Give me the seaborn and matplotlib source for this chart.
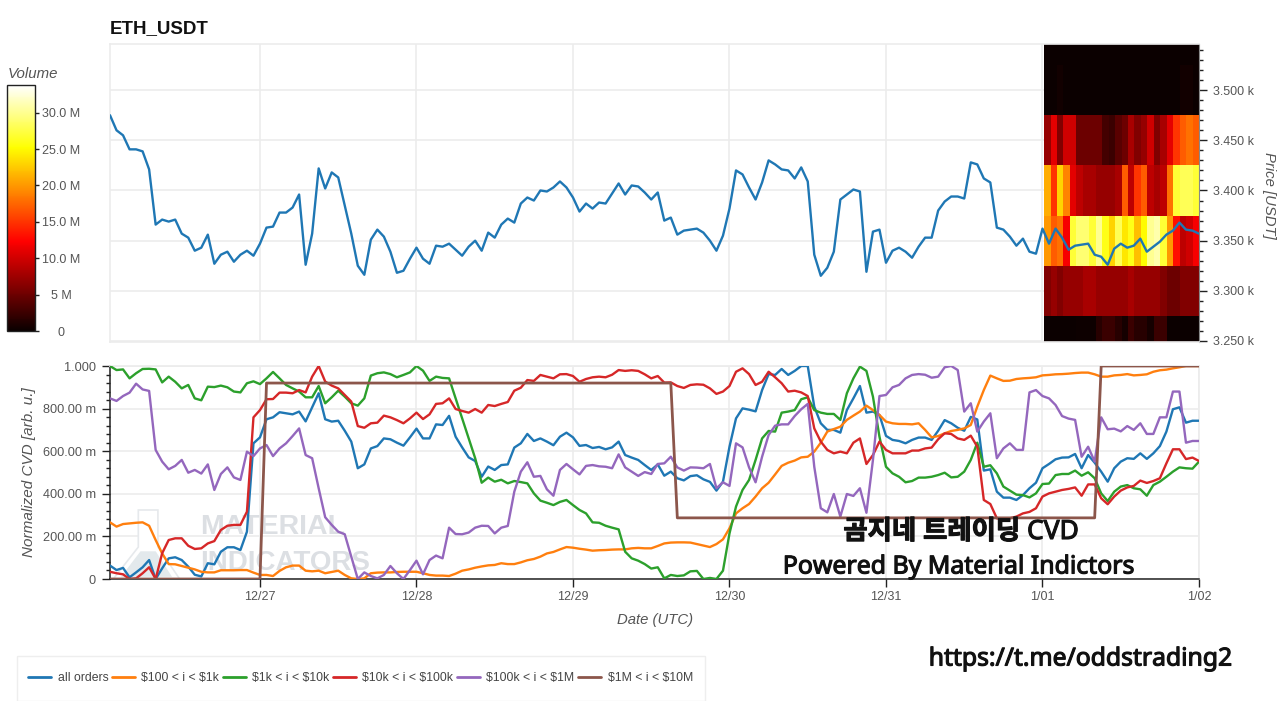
import numpy as np
import pandas as pd
import matplotlib
matplotlib.use("Agg")
import matplotlib.pyplot as plt
import matplotlib.patheffects as pe
from matplotlib.patches import Rectangle, Polygon
from matplotlib.ticker import MultipleLocator
import seaborn as sns

price = [3475,3460,3455,3441,3441,3439,3421,3366,3371,3369,
 3371,3357,3353,3340,3343,3356,3327,3336,3339,3329,
 3336,3340,3335,3347,3363,3364,3378,3378,3383,3396,
 3326,3357,3422,3402,3418,3413,3385,3357,3325,3316,
 3351,3361,3354,3339,3318,3320,3332,3343,3332,3327,
 3345,3344,3347,3341,3335,3344,3350,3340,3358,3353,
 3366,3372,3368,3387,3393,3390,3400,3399,3403,3409,
 3403,3393,3379,3387,3382,3388,3387,3397,3407,3396,
 3405,3404,3398,3391,3398,3370,3373,3356,3360,3361,
 3362,3358,3350,3340,3355,3382,3420,3416,3403,3391,
 3408,3430,3426,3421,3420,3412,3423,3409,3336,3315,
 3323,3339,3391,3396,3401,3399,3319,3359,3361,3328,
 3340,3343,3339,3333,3344,3353,3353,3380,3389,3394,
 3394,3392,3428,3426,3412,3408,3363,3361,3354,3345,
 3352,3339,3337,3362,3347,3362,3353,3341,3345,3346,
 3347,3336,3334,3326,3342,3347,3343,3345,3352,3339,
 3344,3349,3356,3360,3368,3361,3360,3357]

all_orders = [.063,.042,.052,.008,.031,.055,.089,0,.05,.097,
 .102,.089,.058,.02,.012,.074,.069,.128,.149,.149,
 .136,.222,.637,.665,.75,.759,.783,.778,.773,.786,
 .74,.806,.872,.75,.739,.743,.696,.645,.52,.538,
 .613,.624,.66,.656,.64,.626,.665,.706,.66,.66,
 .726,.723,.766,.668,.618,.571,.554,.48,.528,.512,
 .535,.538,.617,.637,.681,.648,.66,.645,.628,.668,
 .687,.665,.625,.629,.615,.62,.609,.618,.645,.582,
 .57,.559,.535,.512,.538,.485,.504,.473,.463,.483,
 .487,.468,.456,.415,.457,.621,.754,.801,.795,.787,
 .887,.962,.958,.986,.958,.977,1,1,.809,.731,
 .7,.7,.687,.793,.848,.906,.781,.786,.77,.672,
 .653,.648,.637,.653,.664,.664,.653,.696,.746,.731,
 .71,.696,.761,.749,.509,.515,.41,.382,.382,.371,
 .394,.426,.452,.52,.54,.562,.57,.571,.587,.52,
 .582,.546,.504,.457,.52,.551,.567,.564,.59,.564,
 .59,.624,.692,.797,.806,.734,.743,.743]

tier_100_1k = [.266,.246,.258,.261,.264,.266,.25,.183,.12,.07,
 .069,.061,.053,.045,.034,.031,.031,.041,.041,.041,
 .042,.042,.03,.019,.019,.014,.038,.055,.063,.063,
 .039,.036,.039,.027,.033,.039,.019,.003,0,.003,
 .027,.03,.031,.031,.033,.034,.034,.034,.027,.019,
 .016,.016,.014,.025,.039,.045,.053,.059,.064,.066,
 .074,.07,.07,.078,.088,.094,.105,.12,.127,.139,
 .15,.147,.142,.138,.133,.135,.136,.138,.139,.139,
 .144,.146,.144,.144,.155,.167,.171,.172,.172,.171,
 .164,.157,.15,.164,.186,.238,.308,.332,.352,.387,
 .426,.452,.491,.531,.546,.556,.571,.574,.598,.64,
 .692,.704,.715,.747,.767,.786,.814,.793,.77,.739,
 .731,.728,.728,.726,.731,.7,.665,.671,.684,.695,
 .7,.707,.723,.809,.887,.955,.942,.93,.931,.939,
 .942,.944,.947,.956,.958,.961,.962,.964,.967,.969,
 .969,.961,.95,.95,.956,.958,.962,.956,.958,.961,
 .973,.98,.983,.989,.994,1,1,1]

tier_1k_10k = [1,.981,.984,.942,.966,.986,.987,.984,.923,.95,
 .926,.895,.911,.848,.839,.903,.901,.908,.9,.88,
 .876,.919,.928,.915,.942,.972,.942,.911,.895,.88,
 .853,.853,.906,.825,.853,.884,.856,.825,.814,.848,
 .955,.966,.97,.962,.947,.958,.97,1,.978,.93,
 .95,.944,.942,.848,.754,.66,.567,.452,.476,.457,
 .466,.449,.46,.455,.449,.402,.368,.358,.347,.362,
 .371,.347,.324,.308,.266,.264,.25,.241,.233,.128,
 .097,.086,.07,.049,.055,.003,.019,.014,.017,.036,
 .038,0,.005,0,.039,.214,.34,.418,.465,.559,
 .66,.695,.692,.781,.786,.793,.844,.853,.793,.781,
 .775,.775,.747,.872,.942,.997,.977,.856,.668,.527,
 .496,.48,.454,.46,.476,.476,.48,.488,.499,.477,
 .48,.504,.559,.64,.527,.534,.496,.434,.415,.396,
 .394,.383,.402,.446,.448,.488,.493,.493,.509,.485,
 .501,.473,.402,.366,.41,.434,.441,.426,.421,.391,
 .441,.457,.48,.504,.524,.52,.518,.551]

tier_10k_100k = [.034,.027,.022,0,.003,.027,.055,0,.121,.183,
 .191,.191,.156,.141,.144,.167,.178,.23,.25,.254,
 .254,.316,.759,.793,.844,.845,.875,.875,.872,.887,
 .876,.95,1,.927,.908,.895,.864,.833,.718,.71,
 .731,.734,.767,.759,.746,.731,.754,.781,.751,.773,
 .822,.825,.848,.798,.789,.781,.798,.781,.817,.812,
 .822,.831,.884,.898,.934,.93,.958,.95,.942,.961,
 .962,.953,.926,.939,.947,.95,.947,.959,.981,.977,
 .98,.977,.961,.942,.953,.922,.923,.906,.897,.911,
 .914,.912,.895,.869,.88,.906,.973,.989,.962,.911,
 .926,.973,.947,.919,.88,.884,.876,.859,.707,.645,
 .606,.59,.598,.59,.64,.66,.54,.582,.645,.606,
 .59,.59,.59,.603,.603,.613,.617,.656,.684,.681,
 .66,.653,.673,.621,.371,.352,.285,.28,.285,.293,
 .308,.315,.332,.387,.402,.41,.418,.423,.43,.391,
 .444,.444,.379,.351,.387,.415,.43,.437,.462,.451,
 .46,.473,.543,.609,.609,.563,.57,.554]

tier_100k_1m = [.848,.836,.859,.875,.917,.89,.883,.606,.551,.515,
 .531,.559,.499,.512,.495,.538,.418,.493,.524,.477,
 .465,.598,.577,.613,.629,.577,.613,.637,.671,.707,
 .582,.567,.426,.29,.254,.222,.21,.105,0,.031,
 .014,.003,.019,.061,.027,0,.042,.086,.022,.089,
 .11,.097,.241,.211,.21,.218,.241,.25,.249,.214,
 .241,.249,.41,.504,.548,.48,.484,.421,.391,.512,
 .54,.515,.491,.531,.535,.529,.527,.52,.585,.524,
 .504,.484,.502,.493,.54,.543,.574,.524,.509,.524,
 .523,.52,.54,.426,.454,.437,.637,.618,.524,.454,
 .574,.676,.72,.726,.726,.765,.797,.822,.527,.332,
 .313,.399,.293,.399,.39,.426,.311,.559,.859,.864,
 .9,.911,.942,.958,.962,.959,.945,.95,.994,1,
 .981,.786,.825,.692,.739,.778,.567,.613,.637,.606,
 .606,.876,.887,.859,.848,.817,.765,.753,.747,.574,
 .621,.551,.759,.703,.706,.693,.718,.7,.731,.681,
 .681,.759,.759,.88,.88,.64,.648,.648]

# $1M-$10M series is a step: hour index and its level
tier_1m_10m_hours = [0, 23, 24, 86, 87, 151, 152, 167]
tier_1m_10m = [0, 0, .92, .92, .287, .287, 1, 1]

series_names = ["all orders", "$100 < i < $1k", "$1k < i < $10k",
                "$10k < i < $100k", "$100k < i < $1M", "$1M < i < $10M"]
series_colors = ["#1f77b4", "#ff7f0e", "#2ca02c", "#d62728", "#9467bd", "#8c564b"]

# Volume profile [millions], one row per 50-wide price bin, 24 hourly columns
price_bin_edges = [3225, 3275, 3325, 3375, 3425, 3475, 3525, 3575]
vol_3250 = [.1,.1,.1,.1,.1,.2,.2,.2,1.5,2.5,2.5,1.5,.6,2.5,1.5,1.5,.6,2.5,2.5,.1,.1,.1,.1,.1]
vol_3300 = [6,7,6,7,7,7,8,8,7,7,7,7,7,8,7,7,7,7,6,5,5,6,6,6]
vol_3350 = [20,17,18,12,27,29,29,27,30,26,23,28,24,26,22,25,30,31,27,20,13,9,10,12]
vol_3400 = [21,15,23,19,11,9,8,8,7,7,7,8,17,9,15,17,9,8,9,18,27,28,28,27]
vol_3450 = [7,11,6,10,10,5,5,5,5,3,2.5,4,5,8,6,7,10,6,8,11,15,17,18,17]
vol_3500 = [.05,.05,.4,.05,.05,.05,.05,.05,.05,.05,.05,.05,.05,.05,.05,.05,.05,.05,.05,.05,.05,.4,.4,.05]
vol_3550 = [.05]*24

date_labels = ["12/27", "12/28", "12/29", "12/30", "12/31", "1/01", "1/02"]
cvd_ticks = [0, .2, .4, .6, .8, 1.0]
cvd_labels = ["0", "200.00 m", "400.00 m", "600.00 m", "800.00 m", "1.000"]
price_ticks = [3250, 3300, 3350, 3400, 3450, 3500]
price_labels = ["3.250 k", "3.300 k", "3.350 k", "3.400 k", "3.450 k", "3.500 k"]
vol_ticks = [0, 5, 10, 15, 20, 25, 30]
vol_labels = ["0", "5 M", "10.0 M", "15.0 M", "20.0 M", "25.0 M", "30.0 M"]

sns.set_theme(style="white")
plt.rcParams["font.family"] = ["Liberation Sans", "DejaVu Sans"]
plt.rcParams["text.parse_math"] = False

W, H = 1280, 701
fig = plt.figure(figsize=(W / 100, H / 100), dpi=100, facecolor="white")

def box(l, t, r, b):
    return [l / W, 1 - b / H, (r - l) / W, (b - t) / H]

GRID = "#ececec"
TXT = "#555555"
AX = "#222222"

hours = pd.date_range("2024-12-26 01:00", periods=168, freq="h")
day_ticks = pd.date_range("2024-12-27", "2025-01-02", freq="D")
xlim = (hours[0], hours[-1])

# ---------- price panel
ax = fig.add_axes(box(110, 44, 1199, 342))
vol_edges = pd.date_range("2025-01-01 00:15", "2025-01-02 00:00", periods=25)
volume = np.array([vol_3250, vol_3300, vol_3350, vol_3400, vol_3450, vol_3500, vol_3550])
mesh = ax.pcolormesh(vol_edges.values, price_bin_edges, volume, cmap="hot",
                     vmin=0, vmax=33.8, shading="flat", zorder=2, rasterized=True)
sns.lineplot(x=hours, y=price, ax=ax, color="#1f77b4", linewidth=1.7, zorder=3, errorbar=None)
ax.set_xlim(*xlim)
ax.set_ylim(3249, 3546)
ax.set_xticks(day_ticks)
ax.set_xticklabels([])
ax.tick_params(axis="x", length=0)
ax.set_xlabel("")
ax.yaxis.tick_right()
ax.yaxis.set_label_position("right")
ax.set_yticks(price_ticks)
ax.set_yticklabels(price_labels)
ax.yaxis.set_minor_locator(MultipleLocator(10))
ax.tick_params(axis="y", which="major", length=6, width=1, color=AX, labelcolor=TXT,
               labelsize=9, pad=4, right=True, left=False)
ax.tick_params(axis="y", which="minor", length=3, width=1, color=AX, right=True, left=False)
ax.grid(True, which="major", color=GRID, linewidth=1.2, zorder=0)
ax.set_axisbelow(True)
for s in ("left", "top", "bottom"):
    ax.spines[s].set_color(GRID)
    ax.spines[s].set_linewidth(1.2)
ax.spines["right"].set_color("#888888")
ax.spines["right"].set_linewidth(0.8)
fig.text(1269 / W, 1 - 195 / H, "Price [USDT]", rotation=-90, ha="center", va="center",
         style="italic", fontsize=10.7, color=TXT)
fig.text(110 / W, 1 - 29 / H, "ETH_USDT", ha="left", va="center", fontweight="bold",
         fontsize=13.5, color="#111111")

# ---------- CVD panel
ax2 = fig.add_axes(box(110, 366, 1199, 579))
frames = [pd.DataFrame({"time": hours, "cvd": vals, "tier": name})
          for name, vals in zip(series_names[:5],
                                [all_orders, tier_100_1k, tier_1k_10k, tier_10k_100k, tier_100k_1m])]
frames.append(pd.DataFrame({"time": hours[tier_1m_10m_hours], "cvd": tier_1m_10m,
                            "tier": series_names[5]}))
df = pd.concat(frames, ignore_index=True)

# watermark sits under the lines
ax2.text(90 / 1089, 0.245, "MATERIAL", transform=ax2.transAxes, fontsize=20.5, fontweight="bold",
         color="#dcdfe3", ha="left", va="center", zorder=1)
ax2.text(90 / 1089, 0.075, "INDICATORS", transform=ax2.transAxes, fontsize=20, fontweight="bold",
         color="#dcdfe3", ha="left", va="center", zorder=1)
ax2.add_patch(Polygon([(.003, .0), (.026, .15), (.026, .324), (.044, .324), (.044, .15), (.064, .0)],
                      closed=True, transform=ax2.transAxes, facecolor="white", edgecolor="#e6e9ec",
                      linewidth=1.2, zorder=1))
ax2.add_patch(Polygon([(.010, .01), (.028, .13), (.042, .13), (.057, .01)],
                      closed=True, transform=ax2.transAxes, facecolor="#e3e9ec", edgecolor="none",
                      zorder=1))

sns.lineplot(data=df, x="time", y="cvd", hue="tier", hue_order=series_names, palette=series_colors,
             estimator=None, errorbar=None, linewidth=1.7, ax=ax2, zorder=3, legend=False)
ax2.lines[-1].set_linewidth(2.0)
ax2.set_xlim(*xlim)
ax2.set_ylim(0, 1)
ax2.set_xticks(day_ticks)
ax2.set_xticklabels(date_labels)
ax2.set_yticks(cvd_ticks)
ax2.set_yticklabels(cvd_labels)
ax2.yaxis.set_minor_locator(MultipleLocator(.04))
ax2.tick_params(axis="x", which="major", length=6, width=1, color=AX, labelcolor=TXT, labelsize=9,
                pad=3, bottom=True)
ax2.tick_params(axis="y", which="major", length=6, width=1, color=AX, labelcolor=TXT, labelsize=9.2,
                pad=4, left=True)
ax2.tick_params(axis="y", which="minor", length=3, width=1, color=AX, left=True)
ax2.grid(True, which="major", color=GRID, linewidth=1.2, zorder=0)
ax2.set_axisbelow(True)
ax2.spines["left"].set_color(AX)
ax2.spines["bottom"].set_color(AX)
ax2.spines["left"].set_linewidth(1.1)
ax2.spines["bottom"].set_linewidth(1.1)
ax2.spines["top"].set_color(GRID)
ax2.spines["right"].set_color(GRID)
ax2.set_xlabel("")
ax2.set_ylabel("")
fig.text(29 / W, 1 - 472 / H, "Normalized CVD [arb. u.]", rotation=90, ha="center", va="center",
         style="italic", fontsize=11, color=TXT)
fig.text(655 / W, 1 - 620 / H, "Date (UTC)", ha="center", va="center", style="italic",
         fontsize=10.7, color=TXT)

# ---------- colour bar
cax = fig.add_axes(box(7, 85, 35, 331))
cb = fig.colorbar(mesh, cax=cax)
cb.set_ticks(vol_ticks)
cb.set_ticklabels(vol_labels)
cax.tick_params(axis="y", length=3, width=1, color=AX, labelcolor=TXT, labelsize=9, pad=16,
                direction="out")
for lab in cax.get_yticklabels():
    lab.set_ha("center")
cb.outline.set_edgecolor("#222222")
cb.outline.set_linewidth(1)
fig.text(8 / W, 1 - 74 / H, "Volume", ha="left", va="center", style="italic", fontsize=10.8, color=TXT)

# ---------- legend
fig.add_artist(Rectangle((17 / W, 0), 688 / W, 45 / H, transform=fig.transFigure,
                         facecolor="white", edgecolor="#eeeeee", linewidth=1))
handles = [plt.Line2D([], [], color=c, linewidth=2) for c in series_colors]
leg = fig.legend(handles, series_names, ncol=6, loc="center", bbox_to_anchor=(360.5 / W, 1 - 678 / H),
                 frameon=False, fontsize=8.8, handlelength=1.9, handletextpad=0.5,
                 columnspacing=0.3, labelcolor="#444444", borderpad=0)

# ---------- overlaid captions
cap = ["Noto Sans", "Noto Sans CJK KR", "DejaVu Sans"]
heavy = [pe.withStroke(linewidth=0.8, foreground="#111111")]
fig.text(961 / W, 1 - 532 / H, "곰지네 트레이딩 CVD", family=cap, fontweight="bold", fontsize=19,
         ha="center", va="center", color="#111111", zorder=10, path_effects=heavy)
fig.text(958.5 / W, 1 - 567 / H, "Powered By Material Indictors", family=cap, fontweight="bold",
         fontsize=17.9, ha="center", va="center", color="#111111", zorder=10, path_effects=heavy)
fig.text(1080.5 / W, 1 - 659 / H, "https://t.me/oddstrading2", family=cap, fontweight="bold",
         fontsize=17.8, ha="center", va="center", color="#111111", zorder=10, path_effects=heavy)

fig.savefig("out.png", dpi=100, facecolor="white")
